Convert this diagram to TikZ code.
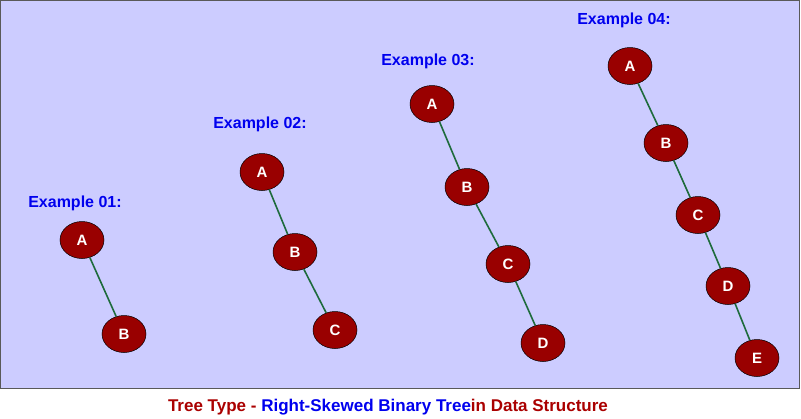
\documentclass[tikz,border=0pt]{standalone}
\usepackage{fontspec}
\setmainfont{Liberation Sans}
\usetikzlibrary{shapes.geometric}
\definecolor{bg}{HTML}{CCCCFF}
\definecolor{nd}{HTML}{990000}
\definecolor{ed}{HTML}{1E6B3C}
\definecolor{lb}{HTML}{0000EE}
\definecolor{cr}{HTML}{AA0000}
\begin{document}
\begin{tikzpicture}[x=1pt,y=-1pt,
  tn/.style={ellipse,draw=black,line width=0.5pt,fill=nd,minimum width=44pt,minimum height=37pt,inner sep=0pt,text=white,font=\bfseries\fontsize{15}{15}\selectfont},
  ex/.style={text=lb,font=\bfseries\fontsize{16}{16}\selectfont},
  tedge/.style={ed,line width=1.6pt}]
\useasboundingbox (0,0) rectangle (801,418);
\draw[fill=bg,draw=gray!70!black] (0.5,0.5) rectangle (799.5,388);
\node[ex] (e1) at (75,203) {Example 01:};
\node[ex] (e2) at (260,124) {Example 02:};
\node[ex] (e3) at (428,61) {Example 03:};
\node[ex] (e4) at (624,20) {Example 04:};
\node[tn] (a1) at (82,240) {A};
\node[tn] (b1) at (124,334) {B};
\node[tn] (a2) at (262,172) {A};
\node[tn] (b2) at (295,252) {B};
\node[tn] (c2) at (335,330) {C};
\node[tn] (a3) at (432,104) {A};
\node[tn] (b3) at (467,187) {B};
\node[tn] (c3) at (508,264) {C};
\node[tn] (d3) at (543,343) {D};
\node[tn] (a4) at (630,66) {A};
\node[tn] (b4) at (666,143) {B};
\node[tn] (c4) at (698,215) {C};
\node[tn] (d4) at (728,286) {D};
\node[tn] (e4n) at (757,358) {E};
\begin{scope}[on background layer/.style={}]
\draw[tedge] (a1)--(b1);
\draw[tedge] (a2)--(b2) (b2)--(c2);
\draw[tedge] (a3)--(b3) (b3)--(c3) (c3)--(d3);
\draw[tedge] (a4)--(b4) (b4)--(c4) (c4)--(d4) (d4)--(e4n);
\end{scope}
\node[font=\bfseries\fontsize{17}{17}\selectfont] (cap) at (388,407) {\textcolor{cr}{Tree Type - }\textcolor{lb}{Right-Skewed Binary Tree}\textcolor{cr}{ in Data Structure}};
\end{tikzpicture}
\end{document}
